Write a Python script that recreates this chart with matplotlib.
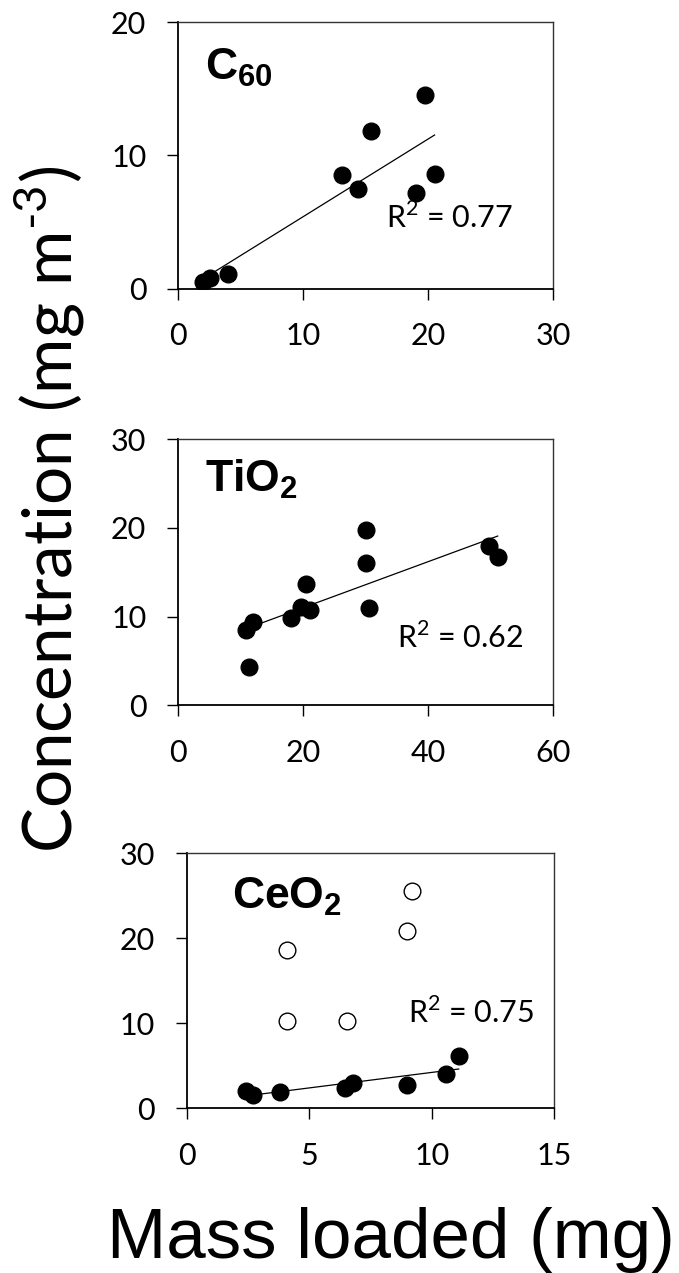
import numpy as np
import matplotlib
matplotlib.use("Agg")
import matplotlib.pyplot as plt

plt.rcParams['font.family'] = ['Lato', 'DejaVu Sans']
plt.rcParams['mathtext.fontset'] = 'custom'
plt.rcParams['mathtext.rm'] = 'Lato'
plt.rcParams['mathtext.bf'] = 'Liberation Sans:bold'

# C60 panel
c60_x = [2.0, 2.5, 3.95, 13.1, 14.35, 15.4, 19.0, 19.7, 20.5]
c60_y = [0.53, 0.78, 1.12, 8.55, 7.5, 11.85, 7.2, 14.55, 8.6]

# TiO2 panel
tio2_x = [10.9, 11.9, 11.3, 18.1, 19.7, 21.1, 20.5, 30.1, 30.1, 30.5, 49.65, 51.1]
tio2_y = [8.5, 9.4, 4.3, 9.8, 11.1, 10.7, 13.7, 19.7, 16.0, 10.95, 18.0, 16.7]

# CeO2 panel (filled = fitted, open = excluded)
ceo2_x = [2.4, 2.7, 3.8, 6.45, 6.8, 9.0, 10.6, 11.1]
ceo2_y = [2.05, 1.6, 1.9, 2.4, 3.0, 2.75, 4.0, 6.15]
ceo2_open_x = [4.1, 4.1, 6.55, 9.0, 9.2]
ceo2_open_y = [18.6, 10.3, 10.3, 20.9, 25.6]

panels = [
    dict(x=c60_x, y=c60_y, ox=None, oy=None, xlim=(0, 30), xt=[0, 10, 20, 30],
         ylim=(0, 20), yt=[0, 10, 20], name=r'$\mathbf{C_{60}}$', r2=r'R$^{2}$ = 0.77',
         rect=[0.2626, 0.7732, 0.5523, 0.2093], lab=(0.071, 0.783), rpos=(0.553, 0.227)),
    dict(x=tio2_x, y=tio2_y, ox=None, oy=None, xlim=(0, 60), xt=[0, 20, 40, 60],
         ylim=(0, 30), yt=[0, 10, 20, 30], name=r'$\mathbf{TiO_2}$', r2=r'R$^{2}$ = 0.62',
         rect=[0.2626, 0.4460, 0.5523, 0.2091], lab=(0.071, 0.801), rpos=(0.584, 0.216)),
    dict(x=ceo2_x, y=ceo2_y, ox=ceo2_open_x, oy=ceo2_open_y, xlim=(0, 15), xt=[0, 5, 10, 15],
         ylim=(0, 30), yt=[0, 10, 20, 30], name=r'$\mathbf{CeO_2}$', r2=r'R$^{2}$ = 0.75',
         rect=[0.2750, 0.1294, 0.5413, 0.2003], lab=(0.122, 0.784), rpos=(0.601, 0.333)),
]

fig = plt.figure(figsize=(6.79, 12.73), dpi=100)

for p in panels:
    ax = fig.add_axes(p['rect'])
    x = np.array(p['x'])
    y = np.array(p['y'])
    # linear trendline over the filled points
    k, b = np.polyfit(x, y, 1)
    xx = np.array([x.min(), x.max()])
    ax.plot(xx, k * xx + b, color='black', lw=0.9, zorder=2)
    ax.plot(x, y, 'o', color='black', markersize=12, zorder=3)
    if p['ox'] is not None:
        ax.plot(p['ox'], p['oy'], 'o', markerfacecolor='white', markeredgecolor='black',
                markeredgewidth=1.0, markersize=12, zorder=3)
    ax.set_xlim(*p['xlim'])
    ax.set_ylim(*p['ylim'])
    ax.set_xticks(p['xt'])
    ax.set_yticks(p['yt'])
    ax.tick_params(direction='out', length=8, width=1.0, labelsize=22, colors='black')
    ax.tick_params(axis='x', pad=16)
    ax.tick_params(axis='y', pad=15)
    for s in ['left', 'bottom']:
        ax.spines[s].set_linewidth(1.3)
    for s in ['top', 'right']:
        ax.spines[s].set_linewidth(1.0)
        ax.spines[s].set_color('#333333')
    ax.text(p['lab'][0], p['lab'][1], p['name'], transform=ax.transAxes,
            fontsize=32, va='baseline', ha='left')
    ax.text(p['rpos'][0], p['rpos'][1], p['r2'], transform=ax.transAxes,
            fontsize=22, va='baseline', ha='left')

fig.text(0.0714, 0.5998, r'Concentration (mg m$^{\text{-3}}$)', rotation=90,
         ha='center', va='center', fontsize=48.5)
fig.text(0.576, 0.0118, 'Mass loaded (mg)', family='Liberation Sans',
         ha='center', va='baseline', fontsize=51)

fig.savefig('out.png', dpi=100)
